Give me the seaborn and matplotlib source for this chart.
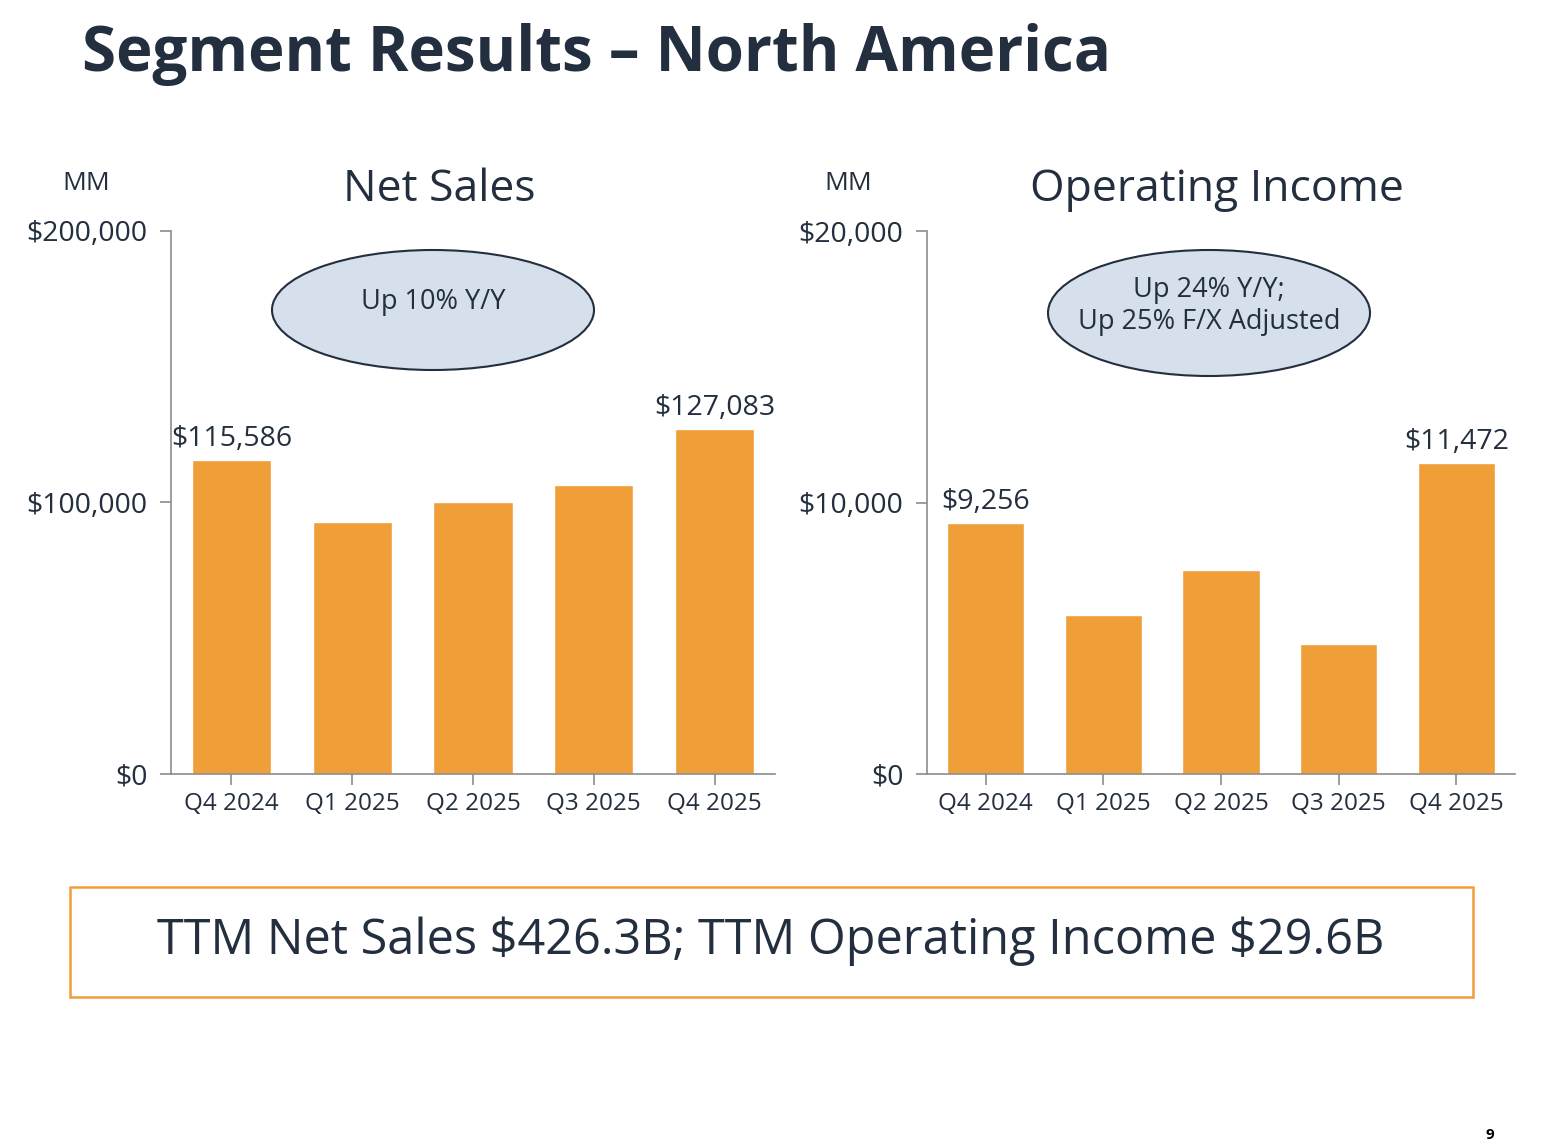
import matplotlib
matplotlib.use('Agg')
import matplotlib.pyplot as plt
import seaborn as sns
import pandas as pd
from matplotlib.patches import Ellipse, Rectangle

# Data
quarters = ['Q4 2024', 'Q1 2025', 'Q2 2025', 'Q3 2025', 'Q4 2025']
net_sales = [115586, 92887, 100068, 106267, 127083]
op_income = [9256, 5841, 7517, 4790, 11472]
ns_ticks = [0, 100000, 200000]
oi_ticks = [0, 10000, 20000]
ns_badge = 'Up 10% Y/Y'
oi_badge = 'Up 24% Y/Y;\nUp 25% F/X Adjusted'
footer = 'TTM Net Sales \\$426.3B; TTM Operating Income \\$29.6B'

INK = '#232F3E'
ORANGE = '#F09E38'
GRAY = '#8C8C8C'

sns.set_style('white')
plt.rcParams['font.family'] = ['Open Sans', 'DejaVu Sans']

fig = plt.figure(figsize=(15.5, 11.48), dpi=100)
W, H = 1550, 1148


def px_axes(x0, y0, x1, y1):
    return fig.add_axes([x0 / W, 1 - y1 / H, (x1 - x0) / W, (y1 - y0) / H])


def fx(x):
    return x / W


def fy(y):
    return 1 - y / H


def panel(ax, values, ticks, title, title_x, mm_x, badge, badge_c, badge_h, badge_ty, label_idx):
    df = pd.DataFrame({'q': quarters, 'v': values})
    sns.barplot(data=df, x='q', y='v', color=ORANGE, width=0.655, saturation=1, ax=ax)
    ax.set_xlim(-0.5, 4.5)
    ax.set_ylim(0, ticks[-1])
    ax.set_yticks(ticks)
    ax.set_yticklabels([f'\\${t:,.0f}' for t in ticks], fontsize=20.5, color=INK)
    ax.tick_params(axis='x', labelsize=17.5, colors=GRAY, labelcolor=INK, length=8, width=1.2, pad=5,
                   direction='out', bottom=True)
    ax.tick_params(axis='y', colors=GRAY, labelcolor=INK, length=8, width=1.2, pad=9, left=True)
    ax.set_xlabel('')
    ax.set_ylabel('')
    for s in ['top', 'right']:
        ax.spines[s].set_visible(False)
    for s in ['left', 'bottom']:
        ax.spines[s].set_color(GRAY)
        ax.spines[s].set_linewidth(1.2)
    for i in label_idx:
        ax.annotate(f'\\${values[i]:,.0f}', (i, values[i]), xytext=(0, 5), textcoords='offset points',
                    ha='center', va='bottom', fontsize=20.5, color=INK)
    fig.text(fx(title_x), fy(190), title, ha='center', va='center', fontsize=32, color=INK)
    fig.text(fx(mm_x), fy(183), 'MM', ha='center', va='center', fontsize=19, color=INK)
    bx, by = badge_c
    e = Ellipse((fx(bx), fy(by)), 322 / W, badge_h / H, transform=fig.transFigure,
                facecolor='#D6DFEC', edgecolor=INK, linewidth=1.5, zorder=3)
    fig.patches.append(e)
    fig.text(fx(bx), fy(badge_ty), badge, ha='center', va='center', fontsize=19.5, color=INK,
             linespacing=1.15, zorder=4)


ax1 = px_axes(171, 231, 775, 774)
ax2 = px_axes(927, 231, 1515, 774)
panel(ax1, net_sales, ns_ticks, 'Net Sales', 439, 86, ns_badge, (433, 310), 120, 302, [0, 4])
panel(ax2, op_income, oi_ticks, 'Operating Income', 1217, 848, oi_badge, (1209, 313), 126, 306, [0, 4])

fig.text(fx(82), fy(55), 'Segment Results \u2013 North America', ha='left', va='center',
         fontsize=44.5, fontweight='bold', color=INK)

fig.patches.append(Rectangle((fx(70), fy(997)), (1473 - 70) / W, (997 - 887) / H, transform=fig.transFigure,
                             facecolor='none', edgecolor=ORANGE, linewidth=1.8))
fig.text(fx(771), fy(941), footer, ha='center', va='center', fontsize=35, color=INK)
fig.text(fx(1490), fy(1135), '9', ha='center', va='center', fontsize=11, fontweight='bold', color='black')

fig.savefig('out.png', dpi=100)
